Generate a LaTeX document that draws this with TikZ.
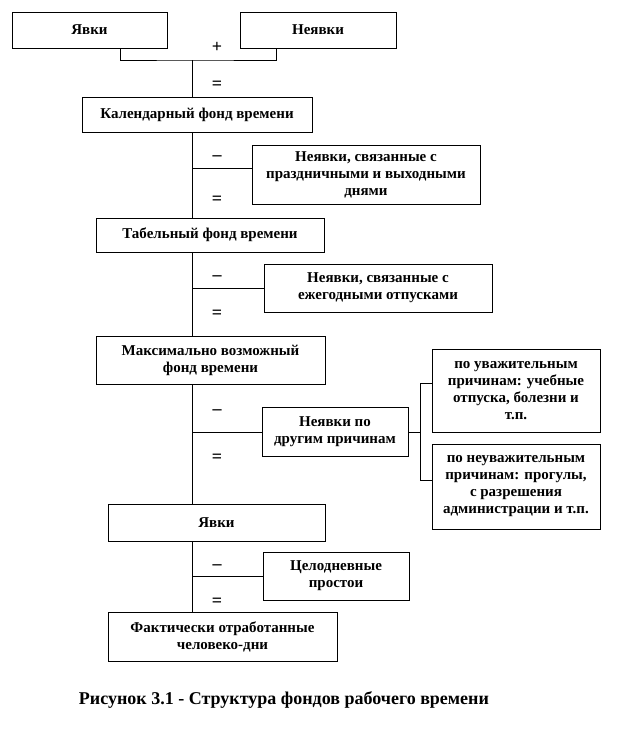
\documentclass[tikz,border=0pt]{standalone}
\usepackage{fontspec}
\setmainfont{Liberation Serif}
\usetikzlibrary{positioning}
\tikzset{
  fundbox/.style={draw, line width=0.9pt, align=center, inner sep=2pt,
    font=\bfseries\fontsize{15}{17}\selectfont},
  sign/.style={font=\bfseries\fontsize{18}{18}\selectfont},
  link/.style={line width=0.9pt}
}

\begin{document}
\begin{tikzpicture}[x=1pt, y=-1pt]
\useasboundingbox (0,0) rectangle (636,732);
% Top row
\node[fundbox, minimum width=155pt, minimum height=36pt] (yav1) at (89.5,30) {Явки};
\node[fundbox, minimum width=156pt, minimum height=36pt] (neyav) at (318,30) {Неявки};
% Main column
\node[fundbox, minimum width=230pt, minimum height=35pt] (kal) at (197,114.5) {Календарный фонд времени};
\node[fundbox, minimum width=228pt, minimum height=34pt] (tab) at (210,235) {Табельный фонд времени};
\node[fundbox, minimum width=229pt, minimum height=48pt] (max) at (210.5,360) {Максимально возможный\\фонд времени};
\node[fundbox, minimum width=217pt, minimum height=37pt] (yav2) at (216.5,522.5) {Явки};
\node[fundbox, minimum width=229pt, minimum height=49pt] (fact) at (222.5,636.5) {Фактически отработанные\\человеко-дни};
% Deductions
\node[fundbox, minimum width=228pt, minimum height=59pt] (hol) at (366,174.5) {Неявки, связанные с\\праздничными и выходными\\днями};
\node[fundbox, minimum width=228pt, minimum height=48pt] (ann) at (378,288) {Неявки, связанные с\\ежегодными отпусками};
\node[fundbox, minimum width=146pt, minimum height=49pt] (oth) at (335,432) {Неявки по\\другим причинам};
\node[fundbox, minimum width=146pt, minimum height=48pt] (idle) at (336,576) {Целодневные\\простои};
\node[fundbox, minimum width=168pt, minimum height=83pt] (good) at (516,390.5) {по уважительным\\причинам: учебные\\отпуска, болезни и\\т.п.};
\node[fundbox, minimum width=168pt, minimum height=85pt] (bad) at (516,486.5) {по неуважительным\\причинам: прогулы,\\с разрешения\\администрации и т.п.};
% Signs
\foreach \n/\y/\s in {plus/47/+, eqa/85/=, mia/158/–, eqb/200/=, mib/278/–, eqc/314/=, mic/412/–, eqd/458/=, mid/567/–, eqe/602/=}
  \node[sign] (\n) at (217,\y) {\s};
% Connectors
\coordinate (join) at (192,60);
\draw[link] ([xshift=30.5pt]yav1.south) |- (join) -| ([xshift=-42pt]neyav.south);
\draw[link] (join) -- (join |- kal.north);
\foreach \a/\b in {kal/tab, tab/max, max/yav2, yav2/fact}
  \draw[link] (join |- \a.south) -- (join |- \b.north);
\coordinate (holin) at ([yshift=6.5pt]hol.west);
\draw[link] (holin) -- (holin -| join);
\foreach \b in {ann, oth, idle}
  \draw[link] (\b.west) -- (\b.west -| join);
% Other reasons
\coordinate (fork) at ([xshift=12pt]oth.east);
\coordinate (goodin) at ([yshift=7pt]good.west);
\coordinate (badin) at ([yshift=6pt]bad.west);
\draw[link] (oth.east) -- (fork);
\draw[link] (goodin) -| (fork) |- (badin);
% Caption
\node[font=\bfseries\fontsize{18}{18}\selectfont] (caption) at (284,700) {Рисунок 3.1 - Структура фондов рабочего времени};
\end{tikzpicture}
\end{document}
